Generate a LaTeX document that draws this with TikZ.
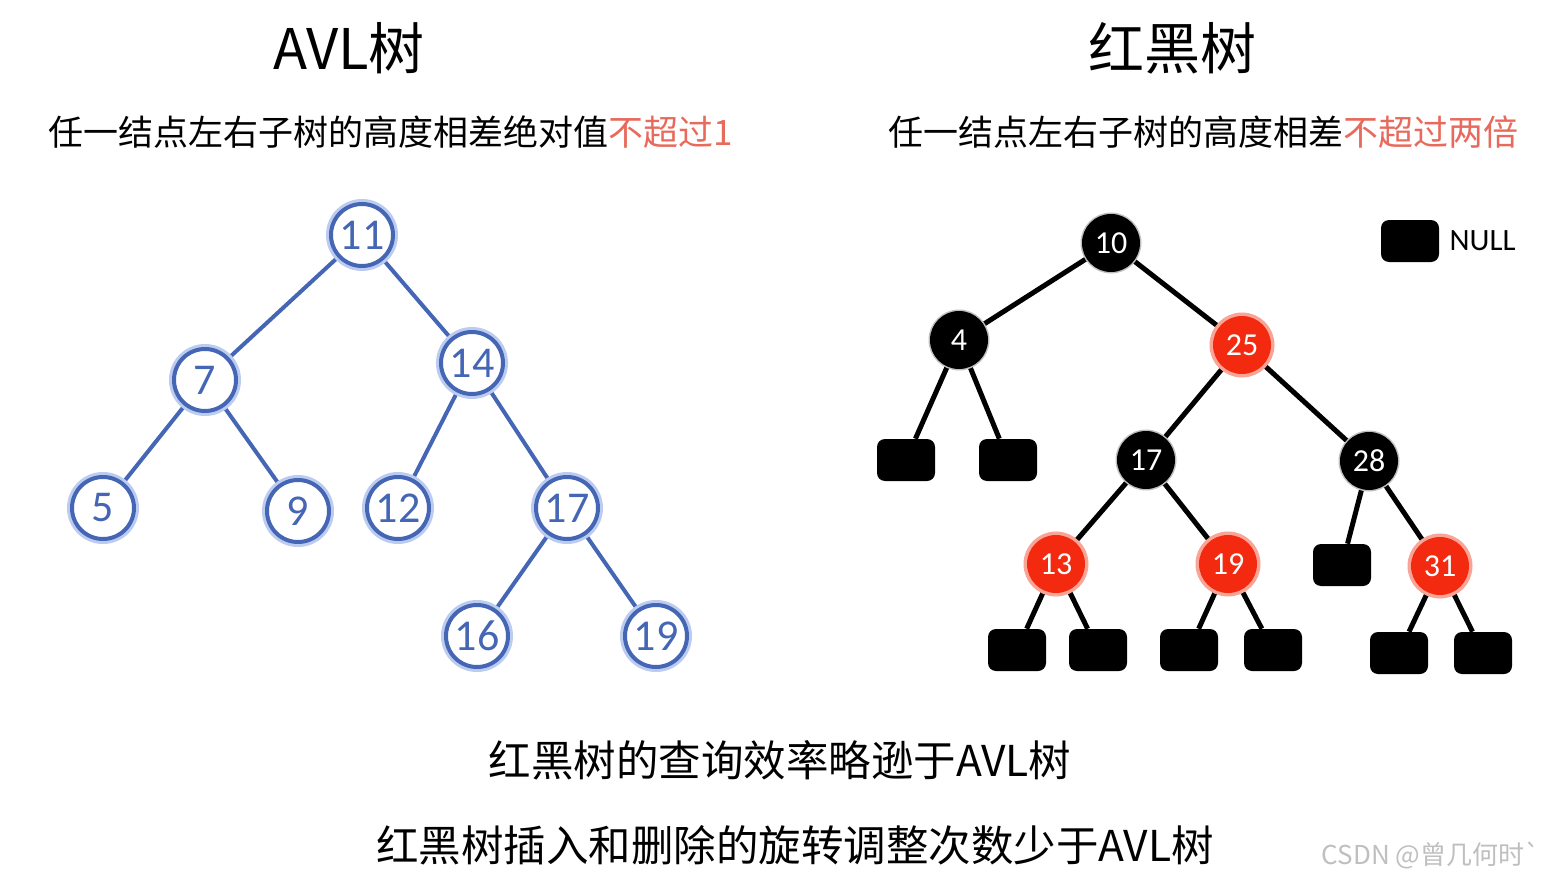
\documentclass[tikz,border=0pt]{standalone}
\usepackage{fontspec}
\setmainfont{Carlito}
\newfontfamily\cjk{Noto Sans CJK SC}
\usetikzlibrary{positioning,backgrounds}
\definecolor{avlblue}{HTML}{4466B4}
\definecolor{avlglow}{HTML}{BCCBF0}
\definecolor{redfill}{HTML}{F42A10}
\definecolor{redglow}{HTML}{F8A496}
\definecolor{hint}{HTML}{E86A5C}

\begin{document}
\begin{tikzpicture}[x=1pt,y=-1pt,semithick]
\tikzstyle{avl}=[circle,draw=avlblue,line width=4pt,fill=white,text=avlblue,minimum size=62pt,inner sep=0pt,
                 font=\fontsize{44}{44}\selectfont,preaction={draw=avlglow,line width=10pt}]
\tikzstyle{rbblack}=[circle,fill=black,text=white,minimum size=58pt,inner sep=0pt,
                     font=\fontsize{32}{32}\selectfont,preaction={draw=black!25,line width=3pt}]
\tikzstyle{rbred}=[rbblack,fill=redfill,preaction={draw=redglow,line width=7pt}]
\tikzstyle{nil}=[rectangle,rounded corners=8pt,fill=black,minimum width=58pt,minimum height=42pt,inner sep=0pt]
\tikzstyle{avledge}=[draw=avlblue,line width=4pt]
\tikzstyle{rbedge}=[draw=black,line width=5pt]
\tikzset{title/.style={font=\cjk\fontsize{56}{56}\selectfont},
         rule/.style={font=\cjk\fontsize{35}{35}\selectfont},
         verdict/.style={font=\cjk\fontsize{42.5}{42.5}\selectfont}}

\useasboundingbox (0,0) rectangle (1559,883);

        % headings
        \node[title] (avltitle) at (349,48) {AVL树};
        \node[title] (rbtitle) at (1172,48) {红黑树};
        \node[rule] (avlrule) at (391,132) {任一结点左右子树的高度相差绝对值\textcolor{hint}{不超过1}};
        \node[rule] (rbrule) at (1203,132) {任一结点左右子树的高度相差\textcolor{hint}{不超过两倍}};

        % AVL tree
        \node[avl] (a11) at (362,235) {11};
        \node[avl] (a7)  at (205,380) {7};
        \node[avl] (a14) at (472,363) {14};
        \node[avl] (a5)  at (103,508) {5};
        \node[avl] (a9)  at (298,511) {9};
        \node[avl] (a12) at (398,508) {12};
        \node[avl] (a17) at (567,508) {17};
        \node[avl] (a16) at (477,636) {16};
        \node[avl] (a19) at (656,636) {19};

        % red-black tree
        \node[rbblack] (r10) at (1111,243) {10};
        \node[rbblack] (r4)  at (959,340)  {4};
        \node[rbred]   (r25) at (1242,345) {25};
        \node[rbblack] (r17) at (1146,460) {17};
        \node[rbblack] (r28) at (1369,461) {28};
        \node[rbred]   (r13) at (1056,564) {13};
        \node[rbred]   (r19) at (1228,564) {19};
        \node[rbred]   (r31) at (1440,566) {31};

        \node[nil] (n4l)  at (906,460)  {};
        \node[nil] (n4r)  at (1008,460) {};
        \node[nil] (n13l) at (1017,650) {};
        \node[nil] (n13r) at (1098,650) {};
        \node[nil] (n19l) at (1189,650) {};
        \node[nil] (n19r) at (1273,650) {};
        \node[nil] (n28l) at (1342,565) {};
        \node[nil] (n31l) at (1399,653) {};
        \node[nil] (n31r) at (1483,653) {};

        % legend
        \node[nil] (nilkey) at (1410,241) {};
        \node[inner sep=0pt,right=10pt of nilkey,font=\fontsize{31}{31}\selectfont] (nillabel) {NULL};

        \begin{scope}[on background layer]
        \path[avledge]
        (a11) edge (a7)
        (a11) edge (a14)
        (a7)  edge (a5)
        (a7)  edge (a9)
        (a14) edge (a12)
        (a14) edge (a17)
        (a17) edge (a16)
        (a17) edge (a19)
        ; %end path

        \path[rbedge]
        (r10) edge (r4)
        (r10) edge (r25)
        (r4)  edge (n4l)
        (r4)  edge (n4r)
        (r25) edge (r17)
        (r25) edge (r28)
        (r17) edge (r13)
        (r17) edge (r19)
        (r28) edge (n28l)
        (r28) edge (r31)
        (r13) edge (n13l)
        (r13) edge (n13r)
        (r19) edge (n19l)
        (r19) edge (n19r)
        (r31) edge (n31l)
        (r31) edge (n31r)
        ; %end path
        \end{scope}

        % conclusions
        \node[verdict] (query) at (780,760) {红黑树的查询效率略逊于AVL树};
        \node[verdict] (rotate) at (795,845) {红黑树插入和删除的旋转调整次数少于AVL树};
        \node[font=\cjk\fontsize{26}{26}\selectfont,text=black!25] (mark) at (1431,855) {CSDN @曾几何时`};

\end{tikzpicture}
\end{document}
